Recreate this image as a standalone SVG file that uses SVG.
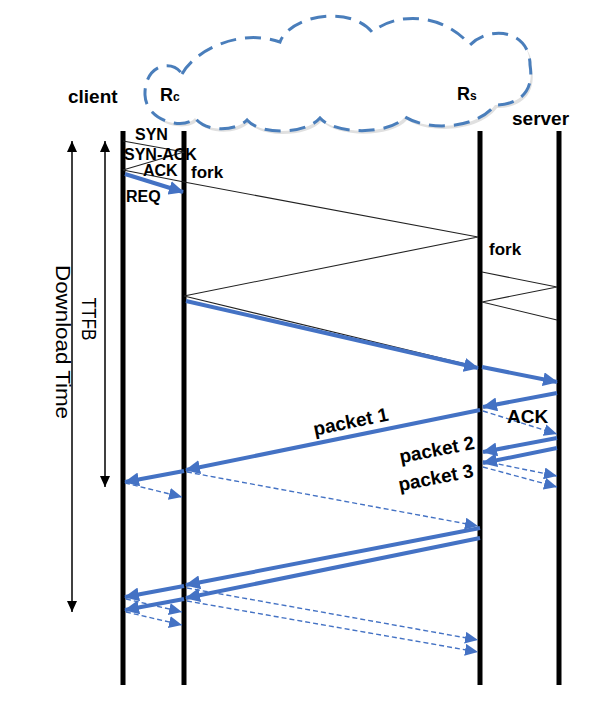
<svg xmlns="http://www.w3.org/2000/svg" width="606" height="719" viewBox="0 0 606 719">
<defs>
<style>
.t{font-family:"Liberation Sans",Arial,sans-serif;font-weight:bold;fill:#000}
.r{font-family:"Liberation Sans",Arial,sans-serif;font-size:20px;fill:#000}
.life{stroke:#000;stroke-width:5;fill:none}
.thin{stroke:#222;stroke-width:1.1;fill:none}
.blue{stroke:#4472C4;stroke-width:4;fill:none;marker-end:url(#ab)}
.dash{stroke:#4472C4;stroke-width:1.4;stroke-dasharray:5 3;fill:none;marker-end:url(#ad)}
.dim{stroke:#000;stroke-width:1.5;fill:none;marker-start:url(#ak);marker-end:url(#ak)}
</style>
<marker id="ab" markerUnits="userSpaceOnUse" markerWidth="16" markerHeight="14" refX="14" refY="7" orient="auto">
<path d="M0,0 L15,7 L0,14 Z" fill="#4472C4"/>
</marker>
<marker id="ad" markerUnits="userSpaceOnUse" markerWidth="14" markerHeight="12" refX="13" refY="6" orient="auto">
<path d="M0,0 L13,6 L0,12 Z" fill="#4472C4"/>
</marker>
<marker id="ak" markerUnits="userSpaceOnUse" markerWidth="12" markerHeight="12" refX="11" refY="5" orient="auto-start-reverse">
<path d="M0,0 L11,5 L0,10 Z" fill="#000"/>
</marker>
</defs>
<rect width="606" height="719" fill="#fff"/>

<g id="cloud">
<path d="M182,74 C195,50 240,28 280,42 C290,15 350,5 372,32 C400,10 445,15 470,45 C490,25 530,30 530,65 C535,95 515,105 495,105 C478,128 430,132 405,117 C390,135 335,135 320,118 C305,135 260,135 247,120 C235,132 205,132 195,118 C185,130 146,122 145,95 C144,65 172,58 182,74 Z" fill="#000" fill-opacity="0.12" transform="translate(2,3)"/>
<path d="M182,74 C195,50 240,28 280,42 C290,15 350,5 372,32 C400,10 445,15 470,45 C490,25 530,30 530,65 C535,95 515,105 495,105 C478,128 430,132 405,117 C390,135 335,135 320,118 C305,135 260,135 247,120 C235,132 205,132 195,118 C185,130 146,122 145,95 C144,65 172,58 182,74 Z" fill="#fff" stroke="#4A7EBB" stroke-width="3" stroke-dasharray="16 9"/>
</g>

<g id="client"><line class="life" x1="123" y1="131" x2="123" y2="685"/><text class="t" x="68" y="103" font-size="19">client</text></g>
<g id="Rc"><line class="life" x1="184" y1="131" x2="184" y2="685"/><text class="t" x="160" y="101" font-size="18">R<tspan font-size="12">c</tspan></text></g>
<g id="Rs"><line class="life" x1="480" y1="131" x2="480" y2="685"/><text class="t" x="457" y="100" font-size="18">R<tspan font-size="12">s</tspan></text></g>
<g id="server"><line class="life" x1="559" y1="131" x2="559" y2="685"/><text class="t" x="512" y="125" font-size="19">server</text></g>

<g id="measures">
<line class="dim" x1="72" y1="141" x2="72" y2="612"/>
<line class="dim" x1="105" y1="141" x2="105" y2="487"/>
<text class="r" transform="translate(56,342) rotate(90)" text-anchor="middle" textLength="154" lengthAdjust="spacingAndGlyphs">Download Time</text>
<text class="r" transform="translate(82,319) rotate(90)" text-anchor="middle" textLength="43" lengthAdjust="spacingAndGlyphs">TTFB</text>
</g>

<g id="connectors">
<polyline class="thin" points="123,141 184,152 123,170 184,182 478,237 184,296 478,367"/>
<polyline class="thin" points="482,272 557,287 482,302 557,320"/>
<line class="blue" x1="125" y1="174" x2="183" y2="192"/>
<line class="blue" x1="186" y1="301" x2="478" y2="368"/>
<line class="blue" x1="482" y1="367" x2="557" y2="382"/>
<line class="blue" x1="557" y1="393" x2="483" y2="407"/>
<line class="blue" x1="480" y1="410" x2="186" y2="470"/>
<line class="blue" x1="184" y1="471" x2="125" y2="482"/>
<line class="dash" x1="483" y1="411" x2="557" y2="434"/>
<line class="blue" x1="557" y1="438" x2="483" y2="452"/>
<line class="blue" x1="557" y1="448" x2="483" y2="463"/>
<line class="dash" x1="483" y1="461" x2="557" y2="476"/>
<line class="dash" x1="483" y1="467" x2="557" y2="487"/>
<line class="dash" x1="125" y1="483" x2="182" y2="497"/>
<line class="dash" x1="187" y1="472" x2="478" y2="526"/>
<line class="blue" x1="480" y1="528" x2="186" y2="585"/>
<line class="blue" x1="184" y1="586" x2="125" y2="597"/>
<line class="blue" x1="480" y1="538" x2="186" y2="598"/>
<line class="blue" x1="184" y1="599" x2="125" y2="610"/>
<line class="dash" x1="126" y1="599" x2="182" y2="612"/>
<line class="dash" x1="126" y1="612" x2="182" y2="625"/>
<line class="dash" x1="187" y1="588" x2="478" y2="640"/>
<line class="dash" x1="187" y1="601" x2="478" y2="652"/>
</g>

<g id="labels">
<text class="t" x="135" y="140" font-size="16">SYN</text>
<text class="t" x="124" y="160" font-size="16">SYN-ACK</text>
<text class="t" x="143" y="176" font-size="16">ACK</text>
<text class="t" x="191" y="178" font-size="17">fork</text>
<text class="t" x="126" y="202" font-size="16">REQ</text>
<text class="t" x="489" y="255" font-size="17">fork</text>
<text class="t" x="507" y="423" font-size="19">ACK</text>
<text class="t" transform="translate(352,428) rotate(-11.6)" text-anchor="middle" font-size="19">packet 1</text>
<text class="t" transform="translate(438,456) rotate(-11)" text-anchor="middle" font-size="19">packet 2</text>
<text class="t" transform="translate(437,484) rotate(-11)" text-anchor="middle" font-size="19">packet 3</text>
</g>
</svg>
